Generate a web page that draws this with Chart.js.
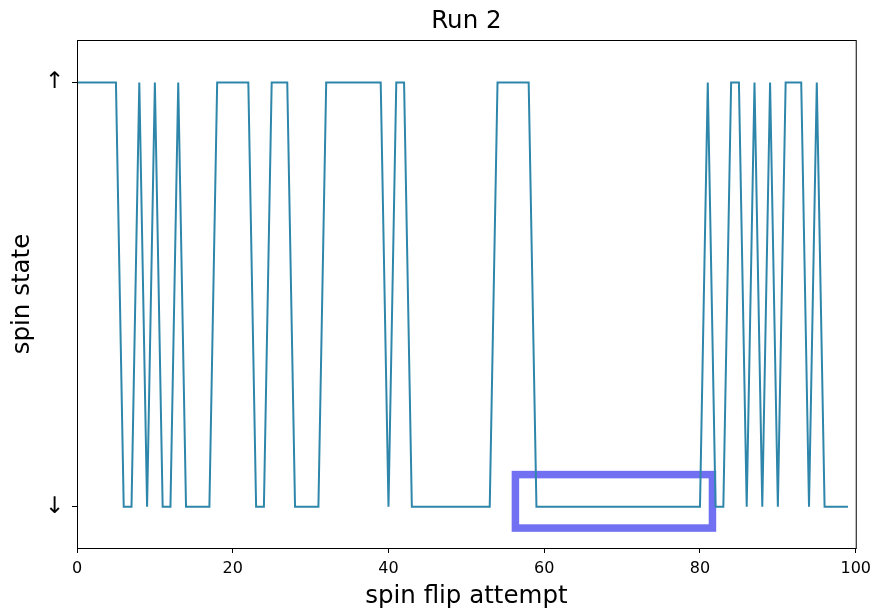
<!DOCTYPE html>
<html>
<head>
<meta charset="utf-8">
<script src="https://cdn.jsdelivr.net/npm/chart.js@4"></script>
<style>
  body { margin: 0; background: #fff; }
</style>
</head>
<body>
<canvas id="chart" width="877" height="610"></canvas>
<script>
// spin state per flip attempt (1 = up, 0 = down)
const spinStates = [
  1, 1, 1, 1, 1, 1, 0, 0, 1, 0,
  1, 0, 0, 1, 0, 0, 0, 0, 1, 1,
  1, 1, 1, 0, 0, 1, 1, 1, 0, 0,
  0, 0, 1, 1, 1, 1, 1, 1, 1, 1,
  0, 1, 1, 0, 0, 0, 0, 0, 0, 0,
  0, 0, 0, 0, 1, 1, 1, 1, 1, 0,
  0, 0, 0, 0, 0, 0, 0, 0, 0, 0,
  0, 0, 0, 0, 0, 0, 0, 0, 0, 0,
  0, 1, 0, 0, 1, 1, 0, 1, 0, 1,
  0, 1, 1, 1, 0, 1, 0, 0, 0, 0
];
const xTicks = [0, 20, 40, 60, 80, 100];
const yTickValues = [0, 1];
const yTickLabels = ["↓", "↑"];
// highlighted region in data units: [xStart, xEnd, yLow, yHigh]
const highlightBox = [56.3, 81.6, -0.05, 0.076];
const titleText = "Run 2";

const FONT = "'DejaVu Sans', sans-serif";

const framePlugin = {
  id: "frame",
  beforeDatasetsDraw(chart) {
    const { ctx, scales: { x, y } } = chart;
    const [x0, x1, y0, y1] = highlightBox;
    ctx.save();
    ctx.strokeStyle = "#716ff2";
    ctx.lineWidth = 7.5;
    ctx.strokeRect(x.getPixelForValue(x0), y.getPixelForValue(y1),
      x.getPixelForValue(x1) - x.getPixelForValue(x0),
      y.getPixelForValue(y0) - y.getPixelForValue(y1));
    ctx.restore();
  },
  afterDatasetsDraw(chart) {
    const { ctx, chartArea: a } = chart;
    ctx.save();
    ctx.strokeStyle = "#000";
    ctx.lineWidth = 1;
    ctx.strokeRect(a.left + 0.5, a.top + 0.5, a.right - a.left, a.bottom - a.top);
    // title centred over the plot area, like matplotlib
    ctx.fillStyle = "#000";
    ctx.font = "24.5px " + FONT;
    ctx.textAlign = "center";
    ctx.textBaseline = "middle";
    ctx.fillText(titleText, (a.left + a.right) / 2, 21.5);
    ctx.restore();
  }
};

new Chart(document.getElementById("chart"), {
  type: "line",
  data: {
    datasets: [{
      data: spinStates.map((s, i) => ({ x: i, y: s })),
      borderColor: "#2e86ab",
      borderWidth: 2,
      pointRadius: 0,
      tension: 0,
      fill: false
    }]
  },
  options: {
    responsive: false,
    animation: false,
    devicePixelRatio: 1,
    layout: { padding: { left: 0, right: 18, top: 40, bottom: 0 } },
    plugins: {
      legend: { display: false },
      tooltip: { enabled: false },
      title: { display: false }
    },
    scales: {
      x: {
        type: "linear",
        min: 0,
        max: 100,
        afterBuildTicks: s => { s.ticks = xTicks.map(v => ({ value: v })); },
        afterFit: s => { s.height = 62; },
        ticks: { color: "#000", font: { family: FONT, size: 16 }, padding: 6, maxRotation: 0 },
        grid: { drawOnChartArea: false, tickLength: 5, color: "#000" },
        border: { color: "#000" },
        title: {
          display: true,
          text: "spin flip attempt",
          color: "#000",
          font: { family: FONT, size: 24.5, lineHeight: 1 },
          padding: { top: 0, bottom: 1 }
        }
      },
      y: {
        type: "linear",
        min: -0.097,
        max: 1.1,
        afterBuildTicks: s => { s.ticks = yTickValues.map(v => ({ value: v })); },
        afterFit: s => { s.width = 77; },
        ticks: {
          color: "#000",
          font: { family: FONT, size: 23 },
          padding: 8,
          callback: v => yTickLabels[yTickValues.indexOf(v)]
        },
        grid: { drawOnChartArea: false, tickLength: 5, color: "#000" },
        border: { color: "#000" },
        title: {
          display: true,
          text: "spin state",
          color: "#000",
          font: { family: FONT, size: 24.5, lineHeight: 1 },
          padding: { top: 10, bottom: 0 }
        }
      }
    }
  },
  plugins: [framePlugin]
});
</script>
</body>
</html>
